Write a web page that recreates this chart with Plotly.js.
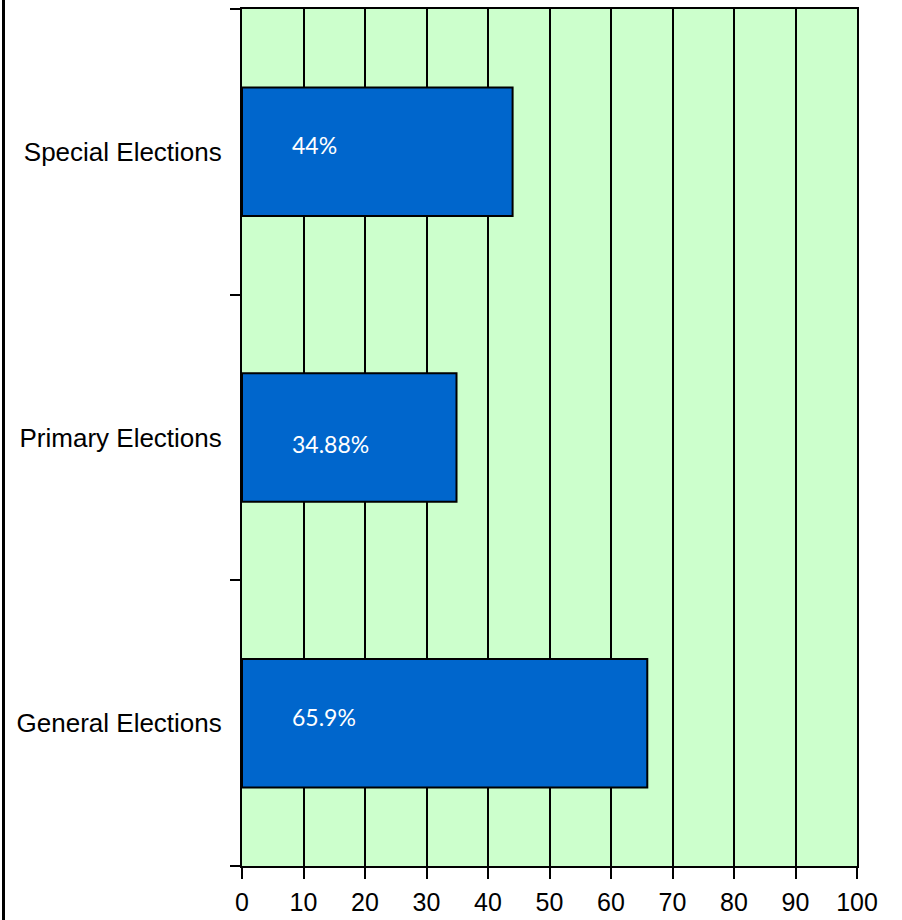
<!DOCTYPE html>
<html>
<head>
<meta charset="utf-8">
<script src="https://cdn.plot.ly/plotly-3.0.1.min.js"></script>
<style>
html,body{margin:0;padding:0;background:#fff;}
#wrap{position:absolute;left:0;top:0;width:902px;height:920px;}
#edge{position:absolute;left:2px;top:0;width:3px;height:920px;background:#000;}
#chart{position:absolute;left:0;top:0;width:902px;height:920px;}
</style>
</head>
<body>
<div id="wrap"><div id="chart"></div><div id="edge"></div></div>
<script>
const categories = ['General Elections', 'Primary Elections', 'Special Elections'];
const values = [65.9, 34.88, 44];
const valueLabels = ['65.9%', '34.88%', '44%'];
const xTicks = [0, 10, 20, 30, 40, 50, 60, 70, 80, 90, 100];

// label vertical offsets in pixels (style only)
const labelShift = [6, -6, 7];

const trace = {
  type: 'bar',
  orientation: 'h',
  y: categories,
  x: values,
  width: 0.45,
  marker: {color: '#0066CC', line: {color: '#000000', width: 2}},
  hoverinfo: 'none'
};

const annotations = categories.map((c, i) => ({
  x: 7.8, y: c, xref: 'x', yref: 'y',
  text: valueLabels[i], showarrow: false,
  xanchor: 'left', yanchor: 'middle', yshift: labelShift[i],
  font: {family: 'Lato, "Open Sans", sans-serif', size: 23, color: '#ffffff'}
}));

const layout = {
  width: 902, height: 920,
  margin: {l: 242, r: 45, t: 9, b: 54, pad: 0},
  paper_bgcolor: '#ffffff',
  plot_bgcolor: '#CCFFCC',
  showlegend: false,
  bargap: 0.55,
  font: {family: 'Arial, "Liberation Sans", sans-serif', size: 26, color: '#000'},
  xaxis: {
    range: [0, 100], tickvals: xTicks, ticktext: xTicks.map(String),
    showgrid: true, gridcolor: '#000000', gridwidth: 2,
    ticks: 'outside', ticklen: 11, tickwidth: 2, tickcolor: '#000',
    showline: true, linecolor: '#000', linewidth: 2, mirror: true,
    zeroline: false, ticklabelstandoff: 2,
    tickfont: {size: 25}, fixedrange: true
  },
  yaxis: {
    type: 'category', range: [-0.5, 2.5],
    categoryorder: 'array', categoryarray: categories,
    tickson: 'boundaries', ticks: 'outside', ticklen: 10, tickwidth: 2, tickcolor: '#000',
    showgrid: false, showline: true, linecolor: '#000', linewidth: 2, mirror: true,
    ticklabelstandoff: 13, tickfont: {size: 26}, fixedrange: true
  },
  annotations: annotations
};

Plotly.newPlot('chart', [trace], layout, {displayModeBar: false, staticPlot: true});
</script>
</body>
</html>
